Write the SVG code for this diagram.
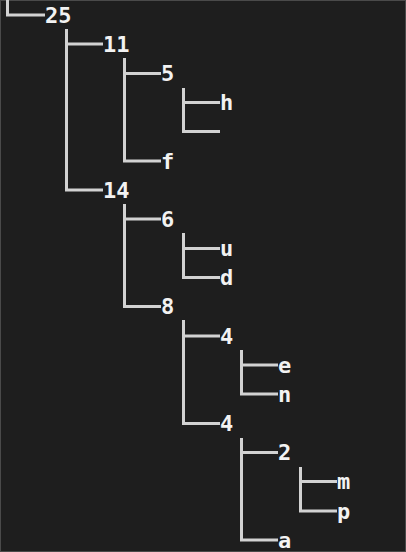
<svg xmlns="http://www.w3.org/2000/svg" width="406" height="552" viewBox="0 0 406 552">
<style>
.bg{fill:#1e1e1e;stroke:#4a4a4a;stroke-width:1}
.c{fill:none;stroke:#d2d2d2;stroke-width:3}
.t{font-family:"DejaVu Sans Mono","Liberation Mono",monospace;font-weight:bold;font-size:22px;fill:#f2f2f2}
</style>
<rect class="bg" x="0.5" y="0.5" width="405" height="551"/>
<g id="connectors">
<path class="c" d="M7.5 0V15H45"/>
<path class="c" d="M66.5 29V44H103"/>
<path class="c" d="M66.5 29V190H103"/>
<path class="c" d="M124.5 58V73.5H161"/>
<path class="c" d="M124.5 58V161H161"/>
<path class="c" d="M183.5 88V102.5H220"/>
<path class="c" d="M183.5 88V131.5H220"/>
<path class="c" d="M124.5 204V219H161"/>
<path class="c" d="M124.5 204V306.5H161"/>
<path class="c" d="M183.5 233V248.5H220"/>
<path class="c" d="M183.5 233V277.5H220"/>
<path class="c" d="M183.5 320V336H220"/>
<path class="c" d="M183.5 320V423.5H220"/>
<path class="c" d="M241.5 350V365H278"/>
<path class="c" d="M241.5 350V394H278"/>
<path class="c" d="M241.5 438V452.5H278"/>
<path class="c" d="M241.5 438V540H278"/>
<path class="c" d="M300.5 467V481.5H337"/>
<path class="c" d="M300.5 467V511H337"/>
</g>
<g id="n25"><text class="t" x="45" y="22.5">25</text></g>
<g id="n11"><text class="t" x="103" y="51.5">11</text></g>
<g id="n5"><text class="t" x="161" y="81">5</text></g>
<g id="nh"><text class="t" x="220" y="110">h</text></g>
<g id="nempty"></g>
<g id="nf"><text class="t" x="161" y="168.5">f</text></g>
<g id="n14"><text class="t" x="103" y="197.5">14</text></g>
<g id="n6"><text class="t" x="161" y="226.5">6</text></g>
<g id="nu"><text class="t" x="220" y="256">u</text></g>
<g id="nd"><text class="t" x="220" y="285">d</text></g>
<g id="n8"><text class="t" x="161" y="314">8</text></g>
<g id="n4a"><text class="t" x="220" y="343.5">4</text></g>
<g id="ne"><text class="t" x="278" y="372.5">e</text></g>
<g id="nn"><text class="t" x="278" y="401.5">n</text></g>
<g id="n4b"><text class="t" x="220" y="431">4</text></g>
<g id="n2"><text class="t" x="278" y="460">2</text></g>
<g id="nm"><text class="t" x="337" y="489">m</text></g>
<g id="np"><text class="t" x="337" y="518.5">p</text></g>
<g id="na"><text class="t" x="278" y="547.5">a</text></g>
</svg>
